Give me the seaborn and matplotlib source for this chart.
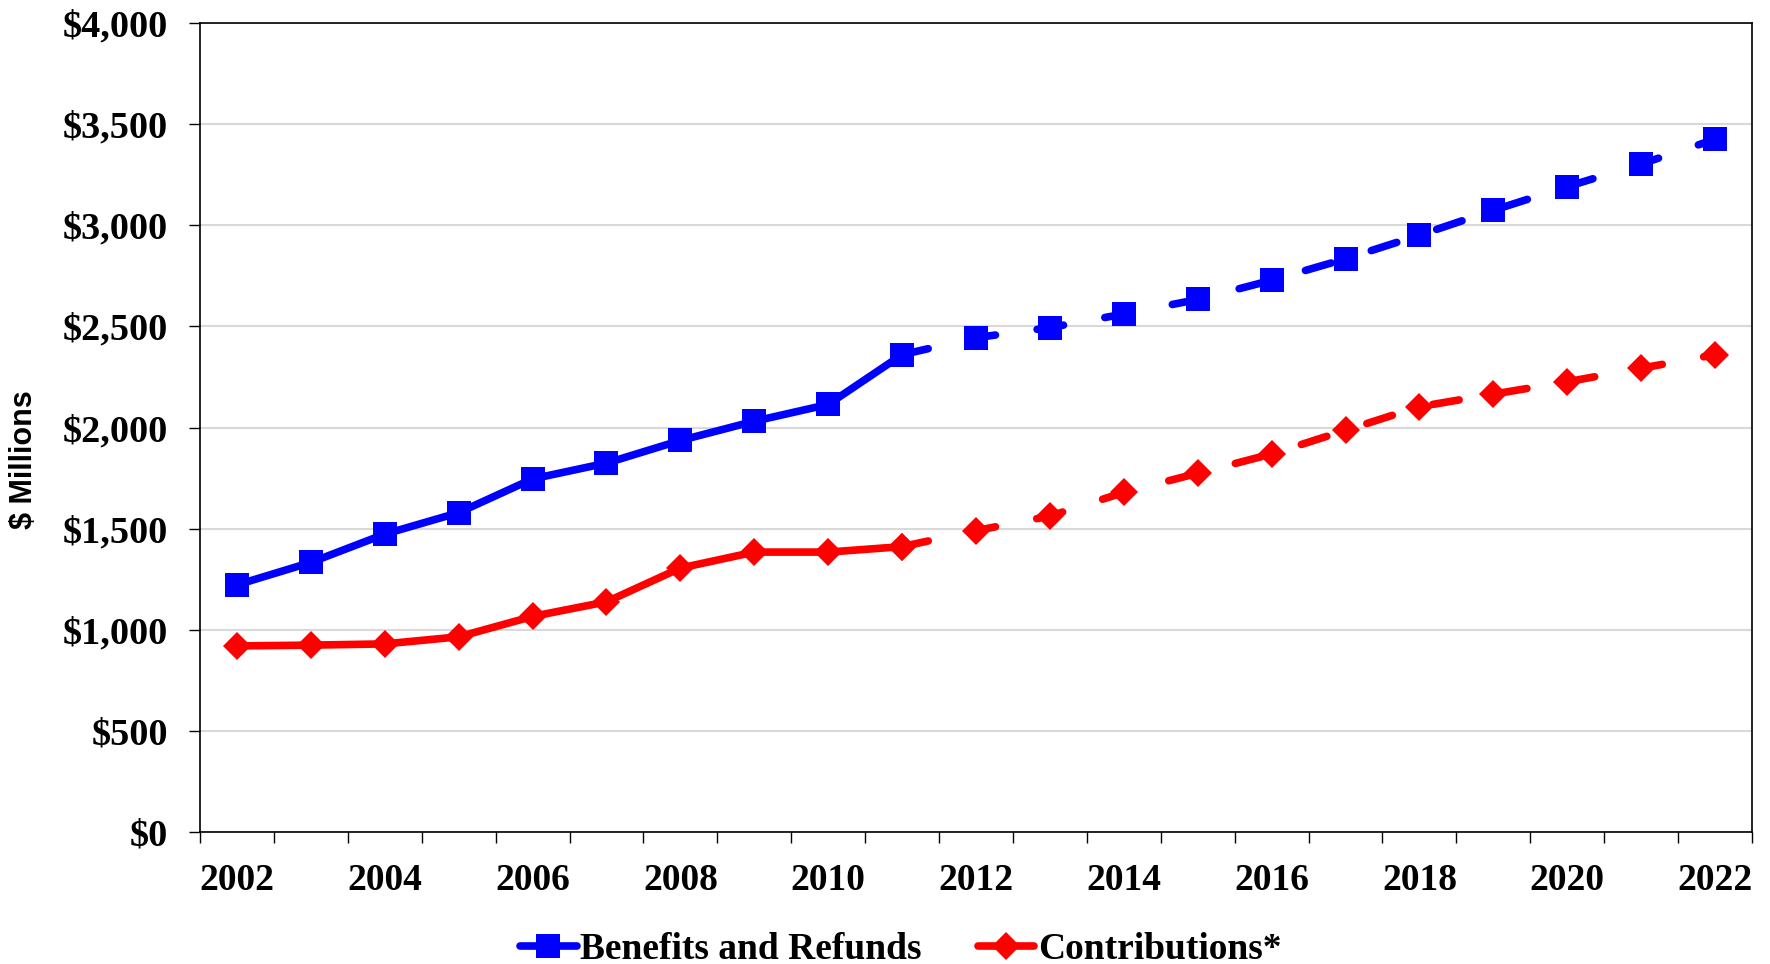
import matplotlib
matplotlib.use("Agg")
import matplotlib.pyplot as plt
from matplotlib.ticker import FixedLocator, FuncFormatter
import seaborn as sns
import pandas as pd

years = list(range(2002, 2023))
benefits = [1222, 1333, 1473, 1579, 1746, 1824, 1936, 2031, 2114, 2360,
            2444, 2494, 2561, 2633, 2728, 2834, 2951, 3074, 3191, 3303, 3425]
contributions = [920, 924, 930, 965, 1066, 1138, 1305, 1384, 1384, 1411,
                 1490, 1562, 1679, 1774, 1869, 1986, 2103, 2165, 2226, 2293, 2360]
last_actual_year = 2011
series_names = ["Benefits and Refunds", "Contributions*"]
y_ticks = [0, 500, 1000, 1500, 2000, 2500, 3000, 3500, 4000]

sns.set_theme(style="white")
plt.rcParams["font.family"] = ["Liberation Serif", "DejaVu Serif"]
plt.rcParams["text.color"] = "black"
plt.rcParams["xtick.color"] = "black"
plt.rcParams["ytick.color"] = "black"
plt.rcParams["axes.labelcolor"] = "black"

df = pd.DataFrame({"year": years, "idx": range(len(years)),
                   "Benefits": benefits, "Contributions": contributions})
split = years.index(last_actual_year)
act = df.iloc[:split + 1]
proj = df.iloc[split:]

fig = plt.figure(figsize=(17.7, 9.64), dpi=100)
ax = fig.add_axes([200 / 1770, 1 - 832 / 964, (1752 - 200) / 1770, (832 - 23) / 964])

lw = 5.5
dash = (0, (3.5, 5.5))
styles = [("Benefits", "#0000ff", "s", 17, series_names[0]),
          ("Contributions", "#ff0000", "D", 14, series_names[1])]
for col, color, mk, ms, lab in styles:
    sns.lineplot(data=act, x="idx", y=col, ax=ax, color=color, lw=lw,
                 marker=mk, markersize=ms, markeredgewidth=0, label=lab,
                 solid_capstyle="round", zorder=3)
    sns.lineplot(data=proj, x="idx", y=col, ax=ax, color=color, lw=lw,
                 marker=mk, markersize=ms, markeredgewidth=0, linestyle=dash,
                 dash_capstyle="round", zorder=3, legend=False)

n = len(years)
ax.set_xlim(-0.5, n - 0.5)
ax.set_ylim(0, 4000)
ax.set_xlabel("")
ax.set_ylabel("$ Millions", fontsize=22, fontweight="bold",
              family=["Liberation Sans", "DejaVu Sans"])
ax.yaxis.set_label_coords(-0.104, 0.46)

major = list(range(0, n, 2))
ax.xaxis.set_major_locator(FixedLocator(major))
ax.set_xticklabels([str(years[i]) for i in major])
ax.xaxis.set_minor_locator(FixedLocator([i - 0.5 for i in range(n + 1)]))
ax.tick_params(axis="x", which="major", length=0, pad=22, labelsize=27)
ax.tick_params(axis="x", which="minor", length=8, width=1, direction="out",
               color="black", bottom=True)
ax.set_yticks(y_ticks)
ax.yaxis.set_major_formatter(FuncFormatter(lambda v, p: "${:,.0f}".format(v)))
ax.tick_params(axis="y", length=8, width=1, direction="out", color="black",
               left=True, labelsize=27.5, pad=15)
for lbl in ax.get_xticklabels() + ax.get_yticklabels():
    lbl.set_fontweight("bold")

ax.yaxis.grid(True, color="#d9d9d9", lw=1.5)
ax.set_axisbelow(True)
for s in ax.spines.values():
    s.set_visible(True)
    s.set_color("black")
    s.set_linewidth(1.2)

handles, labels = ax.get_legend_handles_labels()
ax.get_legend().remove()
fig.legend(handles, labels, loc="center", bbox_to_anchor=(0.509, 0.015),
           ncol=2, frameon=False, handlelength=1.5, handletextpad=0.1,
           columnspacing=1.5, borderpad=0.1, prop={"size": 27, "weight": "bold"})

fig.savefig("out.png", dpi=100)
